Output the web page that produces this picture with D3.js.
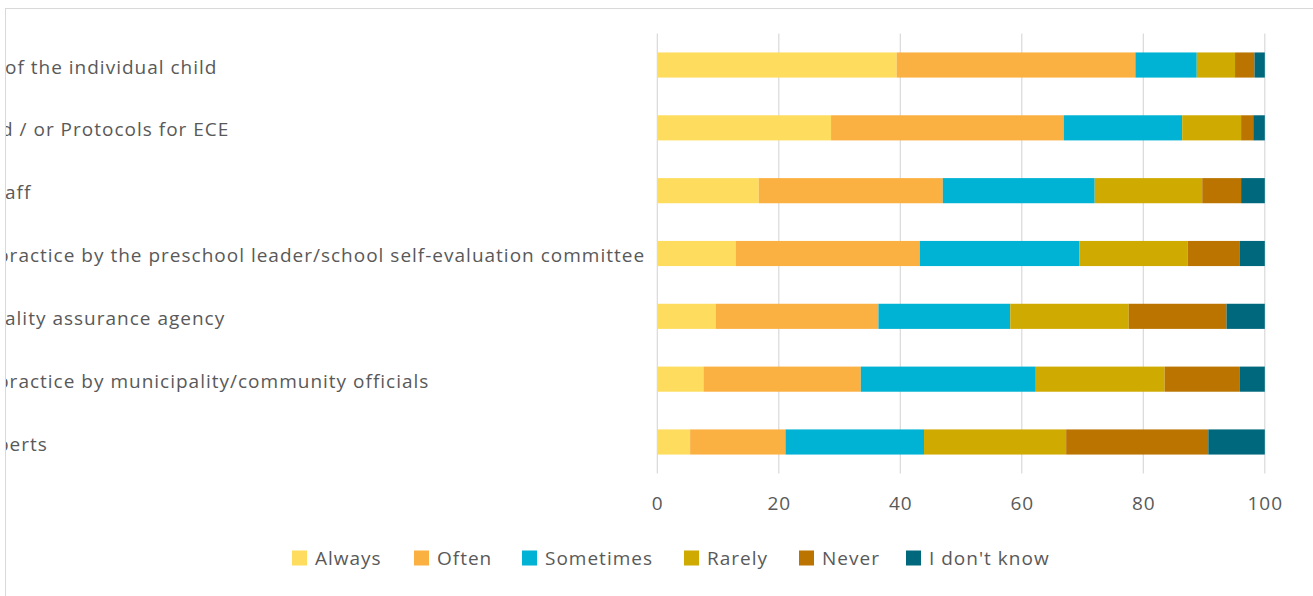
<!DOCTYPE html>
<html>
<head>
<meta charset="utf-8">
<script src="https://cdn.jsdelivr.net/npm/d3@7"></script>
<style>
  html, body { margin: 0; padding: 0; background: #fff; }
  svg { display: block; font-family: "Open Sans", "Noto Sans", sans-serif; }
</style>
</head>
<body>
<svg id="chart" width="1313" height="596"></svg>
<script>
// Category labels (left part is cut off by the chart frame)
const categories = [
  "of the individual child",
  "d / or Protocols for ECE",
  "aff",
  "practice by the preschool leader/school self-evaluation committee",
  "ality assurance agency",
  "practice by municipality/community officials",
  "perts"
];
const seriesNames = ["Always", "Often", "Sometimes", "Rarely", "Never", "I don't know"];
const seriesColors = ["#FEDD5E", "#FBB042", "#00B2D4", "#CFAA00", "#BB7400", "#00687C"];

// Percentages per series, one value per category (top to bottom)
const always    = [39.4, 28.6, 16.7, 12.9,  9.6,  7.6,  5.4];
const often     = [39.3, 38.3, 30.3, 30.3, 26.8, 25.9, 15.7];
const sometimes = [10.1, 19.5, 25.0, 26.3, 21.7, 28.8, 22.8];
const rarely    = [ 6.3,  9.7, 17.7, 17.8, 19.5, 21.2, 23.4];
const never     = [ 3.2,  2.0,  6.4,  8.6, 16.1, 12.4, 23.4];
const dontKnow  = [ 1.7,  1.9,  3.9,  4.1,  6.3,  4.1,  9.3];
const xTicks = [0, 20, 40, 60, 80, 100];

const seriesValues = [always, often, sometimes, rarely, never, dontKnow];
const rows = categories.map((c, i) => {
  const r = { category: c };
  seriesNames.forEach((s, j) => { r[s] = seriesValues[j][i]; });
  return r;
});

const svg = d3.select("#chart");
const W = 1313, H = 596;
const plot = { left: 657.3, right: 1264.8, top: 33.6, bottom: 473.4 };
const textColor = "#595959";
const fontSize = 19;
const spacing = 1;

// Chart frame
svg.append("rect")
  .attr("x", 5.5).attr("y", 8.5)
  .attr("width", W + 10).attr("height", H + 10)
  .attr("fill", "none").attr("stroke", "#D9D9D9").attr("stroke-width", 1);

const x = d3.scaleLinear().domain([0, 100]).range([plot.left, plot.right]);
const y = d3.scaleBand().domain(categories).range([plot.top, plot.bottom]).paddingInner(0.6).paddingOuter(0.3);

// Vertical gridlines
svg.append("g").selectAll("line").data(xTicks).join("line")
  .attr("x1", d => x(d)).attr("x2", d => x(d))
  .attr("y1", plot.top).attr("y2", plot.bottom)
  .attr("stroke", "#D9D9D9").attr("stroke-width", 1.2);

// Stacked bars
const stacked = d3.stack().keys(seriesNames)(rows);
svg.append("g").selectAll("g").data(stacked).join("g")
  .attr("fill", (d, i) => seriesColors[i])
  .selectAll("rect").data(d => d).join("rect")
  .attr("x", d => x(d[0]))
  .attr("width", d => x(d[1]) - x(d[0]))
  .attr("y", d => y(d.data.category))
  .attr("height", y.bandwidth());

// X axis tick labels
const xAxis = d3.axisBottom(x).tickValues(xTicks).tickSize(0).tickPadding(0);
const ax = svg.append("g").attr("transform", `translate(0,${plot.bottom + 23})`).call(xAxis);
ax.select(".domain").remove();
ax.selectAll("text")
  .attr("fill", textColor).attr("font-size", fontSize)
  .attr("letter-spacing", spacing)
  .attr("font-family", "'Open Sans', sans-serif");

// Category labels, clipped at the frame edge
svg.append("clipPath").attr("id", "labelClip")
  .append("rect").attr("x", 6).attr("y", 0).attr("width", 645).attr("height", H);
const leadCut = { d: 4, p: 8 };
svg.append("g").attr("clip-path", "url(#labelClip)")
  .selectAll("text").data(categories).join("text")
  .attr("x", d => 5 - (leadCut[d[0]] || 0))
  .attr("y", d => y(d) + y.bandwidth() / 2 + 2)
  .attr("dy", "0.35em")
  .attr("fill", textColor).attr("font-size", fontSize)
  .attr("letter-spacing", spacing)
  .text(d => d);

// Legend
const legendX = [292, 414, 522, 684, 799, 906];
const lg = svg.append("g").selectAll("g").data(seriesNames).join("g")
  .attr("transform", (d, i) => `translate(${legendX[i]},558)`);
lg.append("rect").attr("x", 0).attr("y", -7.5).attr("width", 15).attr("height", 15)
  .attr("fill", (d, i) => seriesColors[i]);
lg.append("text").attr("x", 23).attr("y", 0).attr("dy", "0.35em")
  .attr("fill", textColor).attr("font-size", fontSize)
  .attr("letter-spacing", spacing)
  .text(d => d);
</script>
</body>
</html>
